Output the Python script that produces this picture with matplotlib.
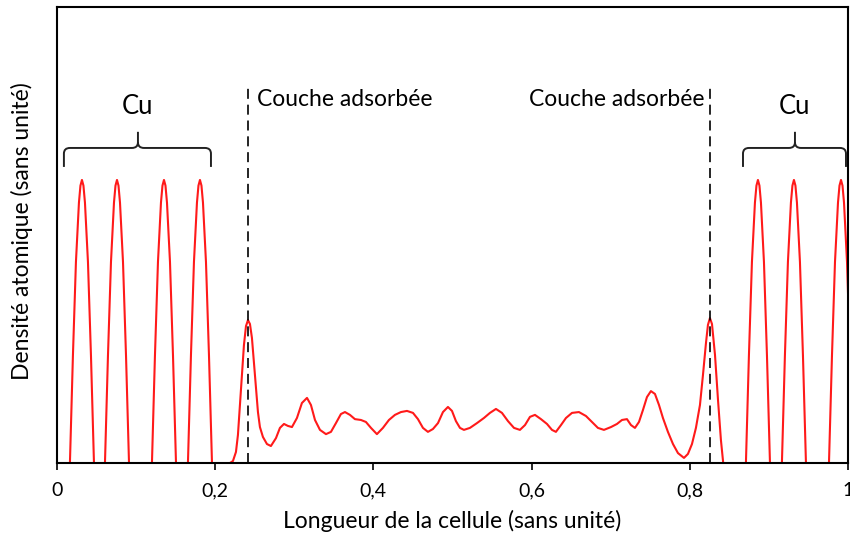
import matplotlib
matplotlib.use("Agg")
import matplotlib.pyplot as plt
import numpy as np
from matplotlib.path import Path
from matplotlib.patches import PathPatch

plt.rcParams['font.family'] = ['Lato', 'DejaVu Sans']

# Copper planes: peak centres along the cell and the sampled shape of one peak
cu_left_centres = [0.0316, 0.0759, 0.1353, 0.1808]
cu_right_centres = [0.8862, 0.9317, 0.9912]
cu_profile_dx = [-0.0202, -0.0152, -0.0114, -0.0076, -0.0038, -0.0019, 0.0,
                 0.0019, 0.0038, 0.0076, 0.0114, 0.0152, 0.0202]
cu_profile_h = [-0.35, 0.0, 0.38, 0.71, 0.92, 0.98, 1.0,
                0.98, 0.92, 0.71, 0.38, 0.0, -0.35]

# Adsorbed layers and the region between them
layer_x = [0.2086, 0.2187, 0.2225, 0.2263, 0.2288, 0.2326, 0.2364, 0.2390, 0.2415,
           0.2440, 0.2465, 0.2503, 0.2541, 0.2566, 0.2604, 0.2655, 0.2705, 0.2769,
           0.2819, 0.2870, 0.2920, 0.2971, 0.3034, 0.3097, 0.3161, 0.3211, 0.3262,
           0.3325, 0.3401, 0.3464, 0.3527, 0.3590, 0.3641, 0.3704, 0.3767, 0.3843,
           0.3906, 0.3970, 0.4045, 0.4121, 0.4197, 0.4273, 0.4349, 0.4425, 0.4501,
           0.4564, 0.4627, 0.4690, 0.4753, 0.4817, 0.4880, 0.4943, 0.4994, 0.5044,
           0.5095, 0.5145, 0.5221, 0.5310, 0.5398, 0.5474, 0.5550, 0.5626, 0.5702,
           0.5778, 0.5853, 0.5917, 0.5980, 0.6043, 0.6119, 0.6195, 0.6258, 0.6308,
           0.6372, 0.6435, 0.6511, 0.6599, 0.6688, 0.6764, 0.6839, 0.6915, 0.7004,
           0.7080, 0.7143, 0.7206, 0.7257, 0.7307, 0.7358, 0.7408, 0.7459, 0.7509,
           0.7560, 0.7611, 0.7661, 0.7724, 0.7788, 0.7851, 0.7927, 0.7977, 0.8028,
           0.8078, 0.8129, 0.8167, 0.8205, 0.8230, 0.8255, 0.8281, 0.8319, 0.8357,
           0.8394, 0.8432, 0.8510]
layer_y = [-0.01, 0.0, 0.007, 0.039, 0.099, 0.258, 0.417, 0.484, 0.505,
           0.491, 0.442, 0.311, 0.180, 0.127, 0.092, 0.067, 0.060, 0.088,
           0.124, 0.138, 0.131, 0.127, 0.159, 0.212, 0.230, 0.205, 0.152,
           0.117, 0.102, 0.110, 0.141, 0.173, 0.180, 0.170, 0.155, 0.152,
           0.145, 0.124, 0.102, 0.124, 0.152, 0.170, 0.180, 0.184, 0.177,
           0.155, 0.124, 0.110, 0.120, 0.141, 0.180, 0.198, 0.184, 0.148,
           0.124, 0.117, 0.124, 0.141, 0.159, 0.177, 0.191, 0.177, 0.148,
           0.124, 0.117, 0.134, 0.163, 0.170, 0.155, 0.138, 0.117, 0.110,
           0.134, 0.159, 0.177, 0.180, 0.166, 0.145, 0.124, 0.117, 0.127,
           0.138, 0.152, 0.155, 0.134, 0.124, 0.145, 0.187, 0.233, 0.254,
           0.244, 0.205, 0.159, 0.110, 0.067, 0.035, 0.018, 0.032, 0.067,
           0.124, 0.205, 0.311, 0.424, 0.488, 0.512, 0.491, 0.382, 0.223,
           0.081, -0.025, -0.20]

adsorbed_positions = [0.2415, 0.8255]
x_ticks = [0, 0.2, 0.4, 0.6, 0.8, 1.0]
x_tick_labels = ["0", "0,2", "0,4", "0,6", "0,8", "1"]

# Assemble the full density profile
xs, ys = [0.0], [-0.35]
for c in cu_left_centres:
    xs += [c + d for d in cu_profile_dx]
    ys += list(cu_profile_h)
xs += layer_x
ys += layer_y
for c in cu_right_centres:
    xs += [c + d for d in cu_profile_dx]
    ys += list(cu_profile_h)

fig = plt.figure(figsize=(8.5, 5.38), dpi=100)
ax = fig.add_axes([0.067, 0.1394, 0.9306, 0.8476])

ax.plot(xs, ys, color="#ff1a1a", lw=1.5, solid_joinstyle="round")

ax.set_xlim(0, 1)
ax.set_ylim(0, 1.611)

# Dashed markers of the adsorbed layers
for xp in adsorbed_positions:
    ax.plot([xp, xp], [0, 1.332], color="black", lw=1.2, dashes=(6, 3.5))

ax.text(0.2528, 1.283, "Couche adsorbée", ha="left", va="center", fontsize=16.5)
ax.text(0.819, 1.283, "Couche adsorbée", ha="right", va="center", fontsize=16.5)


def brace(x0, x1, xm, y_end, y_bar, y_tip, r):
    verts = [(x0, y_end), (x0, y_bar - 0.02), (x0, y_bar), (x0 + r, y_bar),
             (xm - r, y_bar), (xm, y_bar), (xm, y_bar + 0.02), (xm, y_tip),
             (xm, y_bar + 0.02), (xm, y_bar), (xm + r, y_bar),
             (x1 - r, y_bar), (x1, y_bar), (x1, y_bar - 0.02), (x1, y_end)]
    codes = [Path.MOVETO, Path.LINETO, Path.CURVE3, Path.CURVE3,
             Path.LINETO, Path.CURVE3, Path.CURVE3, Path.LINETO,
             Path.MOVETO, Path.CURVE3, Path.CURVE3,
             Path.LINETO, Path.CURVE3, Path.CURVE3, Path.LINETO]
    ax.add_patch(PathPatch(Path(verts, codes), fill=False, lw=1.4,
                           edgecolor="#222222", clip_on=False))


brace(0.0088, 0.1947, 0.1024, 1.046, 1.113, 1.170, 0.0076)
brace(0.8673, 0.9975, 0.933, 1.046, 1.113, 1.170, 0.0076)
ax.text(0.1024, 1.261, "Cu", ha="center", va="center", fontsize=18.5)
ax.text(0.933, 1.261, "Cu", ha="center", va="center", fontsize=18.5)

ax.set_xticks(x_ticks)
ax.set_xticklabels(x_tick_labels, fontsize=14)
ax.set_yticks([])
ax.tick_params(axis="x", direction="out", length=5, width=1.2, pad=9)
for s in ax.spines.values():
    s.set_linewidth(1.5)

ax.set_xlabel("Longueur de la cellule (sans unité)", fontsize=16.5)
ax.set_ylabel("Densité atomique (sans unité)", fontsize=16.5)
ax.xaxis.set_label_coords(0.4994, -0.127)
ax.yaxis.set_label_coords(-0.0442, 0.509)
ax.xaxis.label.set_va("center")
ax.yaxis.label.set_va("center")

fig.savefig("out.png", dpi=100)
